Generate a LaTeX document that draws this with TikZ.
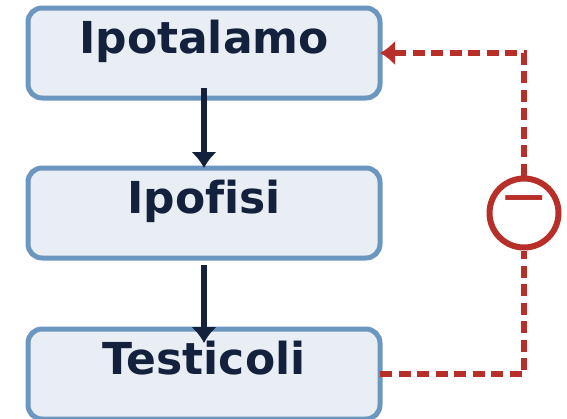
\documentclass[tikz,border=0pt]{standalone}
\usepackage{fontspec}
\usetikzlibrary{arrows.meta}
\newfontfamily\boxfont{DejaVu Sans}[Ligatures={NoCommon}]
\definecolor{navy}{HTML}{14213D}
\definecolor{boxfill}{HTML}{E9EEF4}
\definecolor{boxline}{HTML}{6B96BF}
\definecolor{inhib}{HTML}{B82E28}
\tikzset{
  organ/.style={draw=boxline, fill=boxfill, line width=5pt, rounded corners=14pt,
    minimum width=352pt, minimum height=90pt, inner sep=0pt, outer sep=0pt,
    text height=45pt, text depth=45pt, text=navy,
    font=\boxfont\fontsize{44}{50}\selectfont\bfseries},
  feedback/.style={draw=inhib, line width=6pt, dash pattern=on 12pt off 6.5pt}
}
\begin{document}
\begin{tikzpicture}[x=1pt,y=-1pt]
        \useasboundingbox (0,0) rectangle (567,418);
        \node[organ] at (204,53)  (hypo) {Ipotalamo};
        \node[organ] at (204,213) (pit) {Ipofisi};
        \node[organ] at (204,374) (test) {Testicoli};
        \node[circle, draw=inhib, line width=6pt, minimum size=69pt, inner sep=0pt] at (524,213) (neg) {};
        \node[anchor=base, inner sep=0pt, text=inhib, font=\boxfont\fontsize{59}{60}\selectfont] at ([yshift=-3pt]neg.center) (minus) {−};
        \draw[navy, line width=5.5pt, -{Latex[length=16pt,width=26pt]}] ([yshift=10pt]hypo.south) -- (pit.north);
        \draw[navy, line width=5.5pt, -{Latex[length=16pt,width=26pt]}] ([yshift=-7pt]pit.south) -- ([yshift=-14pt]test.north);
        \draw[feedback] (test.east) -| (neg.south);
        \draw[feedback, -{Latex[length=15pt,width=25pt]}] (neg.north) |- (hypo.east);
      \end{tikzpicture}
\end{document}
